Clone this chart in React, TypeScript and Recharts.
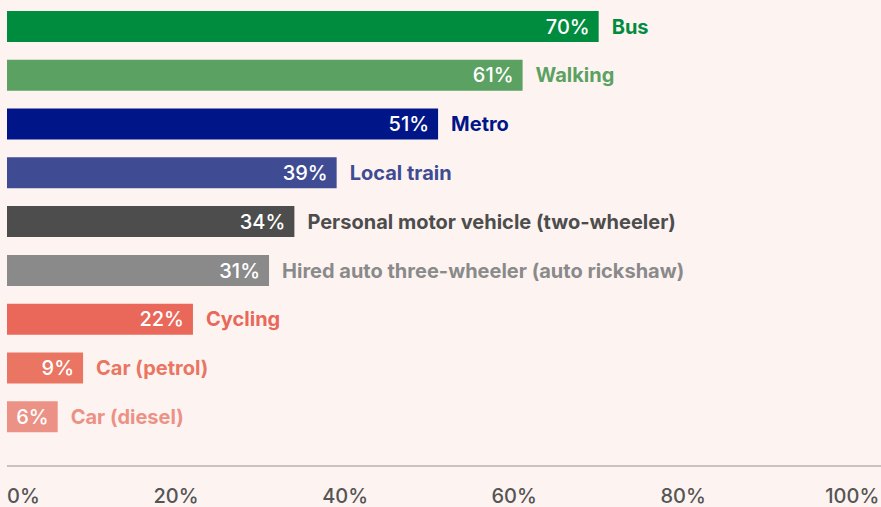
import { BarChart, Bar, XAxis, YAxis, Cell, LabelList } from "recharts";

const modes = [
  "Bus",
  "Walking",
  "Metro",
  "Local train",
  "Personal motor vehicle (two-wheeler)",
  "Hired auto three-wheeler (auto rickshaw)",
  "Cycling",
  "Car (petrol)",
  "Car (diesel)",
];
const shares = [70, 61, 51, 39, 34, 31, 22, 9, 6];
const xTicks = [0, 20, 40, 60, 80, 100];

const COLORS = [
  "#008c3e",
  "#5aa162",
  "#001688",
  "#3f4c93",
  "#4d4d4d",
  "#8a8a8a",
  "#e9685a",
  "#e97562",
  "#ec9185",
];

const FONT = "Inter, 'Noto Sans', sans-serif";

const data = modes.map((name, i) => ({ name, value: shares[i] }));

function Tick(props: any) {
  const { x, y, payload, index } = props;
  return (
    <text
      x={x}
      y={y + 29}
      textAnchor={index === 0 ? "start" : "middle"}
      fill="#555555"
      fontSize={20}
      fontWeight={500}
      fontFamily={FONT}
    >
      {payload.value}%
    </text>
  );
}

function BarLabel(props: any) {
  const { x, y, width, height, value, index } = props;
  const cy = y + height / 2;
  return (
    <g>
      <text
        x={x + width - 9}
        y={cy}
        dy="0.36em"
        textAnchor="end"
        fill="#ffffff"
        fontSize={20}
        fontWeight={500}
        fontFamily={FONT}
      >
        {value}%
      </text>
      <text
        x={x + width + 13}
        y={cy}
        dy="0.36em"
        textAnchor="start"
        fill={COLORS[index]}
        fontSize={20}
        fontWeight={700}
        fontFamily={FONT}
      >
        {modes[index]}
      </text>
    </g>
  );
}

export default function App() {
  return (
    <div
      style={{
        position: "absolute",
        left: 0,
        top: 0,
        width: 881,
        height: 507,
        background: "#fdf4f1",
      }}
    >
      <BarChart
        width={881}
        height={507}
        data={data}
        layout="vertical"
        margin={{ top: 2, right: 0, bottom: 0, left: 7 }}
        barSize={31}
      >
        {/* axis runs past 100% to the right edge */}
        <XAxis
          type="number"
          domain={[0, 103.4]}
          ticks={xTicks}
          height={41}
          axisLine={{ stroke: "#c8c1be", strokeWidth: 2 }}
          tickLine={false}
          tick={<Tick />}
          interval={0}
          allowDataOverflow
        />
        <YAxis type="category" dataKey="name" hide padding={{ top: 0, bottom: 25 }} />
        <Bar dataKey="value" isAnimationActive={false}>
          {data.map((_, i) => (
            <Cell key={i} fill={COLORS[i]} />
          ))}
          <LabelList dataKey="value" content={<BarLabel />} />
        </Bar>
      </BarChart>
    </div>
  );
}
